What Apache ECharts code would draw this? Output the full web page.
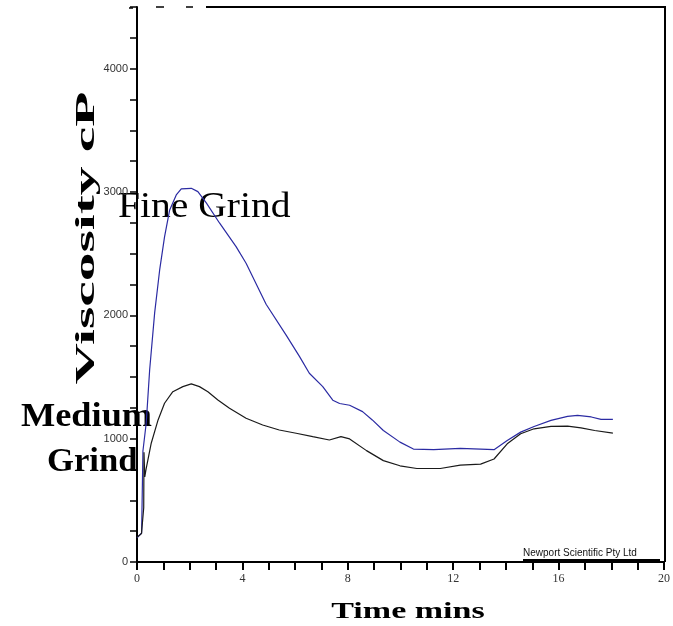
<!DOCTYPE html>
<html>
<head>
<meta charset="utf-8">
<script src="https://cdn.jsdelivr.net/npm/echarts@6/dist/echarts.min.js"></script>
<style>
  html, body { margin: 0; padding: 0; background: #fff; }
  #main { width: 673px; height: 626px; }
</style>
</head>
<body>
<div id="main"></div>
<script type="text/javascript">
    // data (time in minutes, viscosity in cP)
    var fineTime = [0, 0.175, 0.225, 0.35, 0.48, 0.67, 0.86, 1.045, 1.24, 1.49, 1.68, 2.06, 2.31, 2.63, 3.13, 3.76, 4.14, 4.90, 5.66, 6.17, 6.54, 7.05, 7.43, 7.69, 8.07, 8.56, 8.93, 9.35, 9.98, 10.49, 11.26, 12.27, 13.55, 14.05, 14.56, 15.07, 15.71, 16.34, 16.72, 17.24, 17.61, 18.06];
    var fineVisc = [195, 235, 900, 1127, 1557, 2020, 2368, 2636, 2855, 2976, 3025, 3030, 3003, 2912, 2749, 2557, 2422, 2090, 1840, 1665, 1530, 1422, 1312, 1285, 1271, 1219, 1152, 1066, 972, 916, 911, 922, 911, 985, 1053, 1099, 1148, 1181, 1189, 1176, 1157, 1157];

    var mediumTime = [0, 0.17, 0.255, 0.265, 0.295, 0.35, 0.54, 0.80, 1.045, 1.36, 1.74, 2.06, 2.37, 2.69, 3.07, 3.51, 4.14, 4.77, 5.40, 6.04, 6.67, 7.30, 7.74, 8.07, 8.71, 9.35, 9.98, 10.62, 11.51, 12.27, 13.04, 13.55, 14.05, 14.56, 15.07, 15.71, 16.34, 16.85, 17.37, 18.06];
    var mediumVisc = [200, 230, 440, 890, 690, 760, 963, 1152, 1287, 1381, 1422, 1444, 1422, 1381, 1314, 1247, 1165, 1111, 1070, 1044, 1016, 989, 1016, 998, 903, 822, 780, 758, 758, 786, 794, 835, 958, 1040, 1080, 1099, 1102, 1088, 1066, 1045];

    var xLabelEvery = 4;      // minutes between x labels
    var yLabelEvery = 1000;   // cP between y labels

    function pairs(xs, ys) {
        var out = [];
        for (var i = 0; i < xs.length; i++) out.push([xs[i], ys[i]]);
        return out;
    }

    var myChart = echarts.init(document.getElementById('main'), null, {renderer: 'canvas'});

    var option = {
        backgroundColor: '#fff',
        animation: false,
        grid: { left: 137, right: 8, top: 7, bottom: 64, containLabel: false },
        xAxis: {
            type: 'value',
            min: 0, max: 20, interval: 1,
            axisLine: { show: true, onZero: false, lineStyle: { color: '#000', width: 2 } },
            axisTick: { show: true, length: 8, lineStyle: { color: '#000', width: 2 } },
            axisLabel: {
                margin: 11,
                color: '#333',
                fontFamily: 'Liberation Serif',
                fontSize: 12,
                showMaxLabel: true,
                formatter: function (v) { return v % xLabelEvery === 0 ? String(v) : ''; }
            },
            splitLine: { show: false }
        },
        yAxis: {
            type: 'value',
            min: 0, max: 4500, interval: 250,
            axisLine: { show: true, lineStyle: { color: '#000', width: 2 } },
            axisTick: { show: true, length: 7, lineStyle: { color: '#000', width: 1.5 } },
            axisLabel: {
                margin: 9,
                color: '#333',
                fontFamily: 'Liberation Sans',
                fontSize: 11,
                formatter: function (v) { return (v % yLabelEvery === 0 && v <= 4000) ? String(v) : ''; }
            },
            splitLine: { show: false }
        },
        series: [
            {
                name: 'Fine Grind',
                type: 'line',
                showSymbol: false,
                lineStyle: { color: '#2b2ba3', width: 1.2 },
                data: pairs(fineTime, fineVisc)
            },
            {
                name: 'Medium Grind',
                type: 'line',
                showSymbol: false,
                lineStyle: { color: '#1a1a1a', width: 1.2 },
                data: pairs(mediumTime, mediumVisc)
            }
        ],
        graphic: [
            // frame: top and right edges
            { type: 'line', shape: { x1: 206, y1: 7, x2: 666, y2: 7 }, style: { stroke: '#000', lineWidth: 2 } },
            { type: 'line', shape: { x1: 156, y1: 7, x2: 164, y2: 7 }, style: { stroke: '#000', lineWidth: 1.5 } },
            { type: 'line', shape: { x1: 186, y1: 7, x2: 193, y2: 7 }, style: { stroke: '#000', lineWidth: 1.5 } },
            { type: 'line', shape: { x1: 129, y1: 8, x2: 133, y2: 8 }, style: { stroke: '#000', lineWidth: 1.5 } },
            { type: 'line', shape: { x1: 665, y1: 7, x2: 665, y2: 562 }, style: { stroke: '#000', lineWidth: 2 } },
            { type: 'line', shape: { x1: 523, y1: 560, x2: 660, y2: 560 }, style: { stroke: '#000', lineWidth: 2 } },
            {
                type: 'text', x: 523, y: 558,
                style: { text: 'Newport Scientific Pty Ltd', font: '10px "Liberation Sans"', fill: '#111', align: 'left', verticalAlign: 'bottom' }
            },
            {
                type: 'text', x: 87, y: 238, rotation: Math.PI / 2, scaleX: 2.05,
                style: { text: 'Viscosity cP', font: 'bold 28px "Liberation Serif"', fill: '#000', align: 'center', verticalAlign: 'middle' }
            },
            {
                type: 'text', x: 408, y: 612, scaleX: 1.48,
                style: { text: 'Time mins', font: 'bold 23px "Liberation Serif"', fill: '#000', align: 'center', verticalAlign: 'middle' }
            },
            {
                type: 'text', x: 118, y: 208, scaleX: 1.13,
                style: { text: 'Fine Grind', font: '35px "Liberation Serif"', fill: '#000', align: 'left', verticalAlign: 'middle' }
            },
            {
                type: 'text', x: 21, y: 417, scaleX: 1.1,
                style: { text: 'Medium', font: 'bold 33px "Liberation Serif"', fill: '#000', align: 'left', verticalAlign: 'middle' }
            },
            {
                type: 'text', x: 47, y: 462, scaleX: 1.05,
                style: { text: 'Grind', font: 'bold 33px "Liberation Serif"', fill: '#000', align: 'left', verticalAlign: 'middle' }
            }
        ]
    };
    myChart.setOption(option);
</script>
</body>
</html>
